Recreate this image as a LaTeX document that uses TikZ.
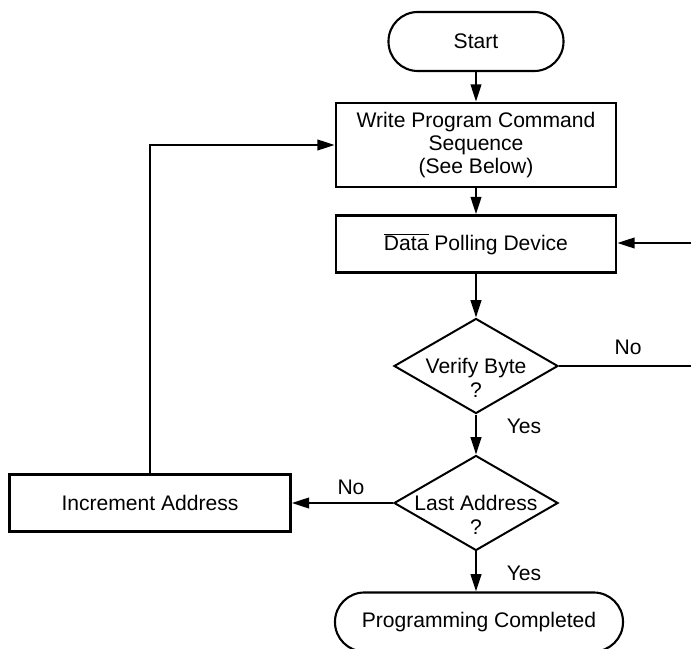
\documentclass[tikz,border=0pt]{standalone}
\usepackage{fontspec}
\setmainfont{Liberation Sans}
\usetikzlibrary{arrows.meta,shapes.geometric}
\begin{document}
\begin{tikzpicture}[x=0.03cm,y=-0.03cm,>={Triangle[length=0.52cm,width=0.32cm]},line join=miter,font=\fontsize{18}{20}\selectfont,
	term/.style={draw,line width=1.8pt,rounded corners=0.88cm,minimum height=1.77cm,inner sep=0pt},
	box/.style={draw,line width=2.3pt,minimum width=8.4cm,align=center,inner sep=0pt},
	decide/.style={draw,diamond,line width=1.7pt,minimum width=4.92cm,minimum height=2.85cm,inner sep=0pt},
	link/.style={line width=1.7pt}]
	\useasboundingbox (0,0) rectangle (691,649);
	% boxes down the middle
	\node[term,minimum width=5.25cm] (start) at (476,41.5) {Start};
	\node[box,minimum height=2.52cm] (write) at (476,145) {Write Program Command\\Sequence\\(See Below)};
	\node[box,minimum height=1.71cm] (poll) at (476,244) {$\overline{\mbox{Data}}$ Polling Device};
	\node[decide,label={[align=center,yshift=-0.36cm]center:Verify Byte\\?}] (verify) at (476,366) {};
	\node[decide,label={[align=center,yshift=-0.36cm]center:Last Address\\?}] (last) at (476,503) {};
	\node[term,minimum width=8.64cm] (done) at (479,622) {Programming Completed};
	\node[box,minimum width=8.43cm,minimum height=1.71cm] (inc) at (150,503) {Increment Address};
	% labels
	\node (no1) at (628,347) {No};
	\node (yes1) at (524,426) {Yes};
	\node (no2) at (351,487) {No};
	\node (yes2) at (524,573) {Yes};
	% connectors
	\coordinate (rim1) at (691,243);
	\coordinate (rim2) at (691,366);
	\draw[link,->] (start) -- (write);
	\draw[link,->] (write) -- (poll);
	\draw[link,->] (poll) -- (verify);
	\draw[link,->] (verify) -- (last);
	\draw[link,->] (last.south) -- (last.south |- done.north);
	\draw[link,->] (last) -- (inc);
	\draw[link,->] (inc.north) |- (write.west);
	\draw[link,->] (rim1) -- (rim1 -| poll.east);
	\draw[link] (verify.east) -- (rim2);
\end{tikzpicture}
\end{document}
